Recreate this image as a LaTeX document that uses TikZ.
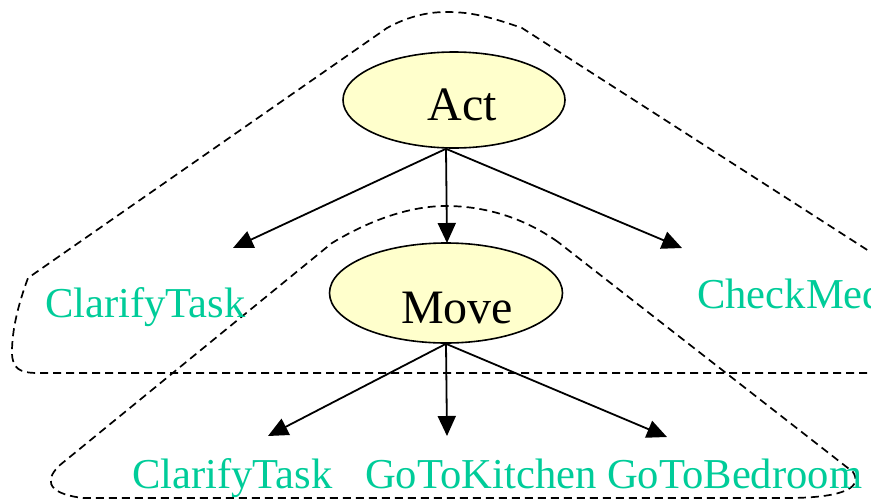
\documentclass[tikz,border=0pt]{standalone}
\usepackage{fontspec}
\setmainfont{Liberation Serif}
\usepackage{xcolor}
\usetikzlibrary{shapes.geometric,arrows.meta}
\definecolor{leafgreen}{RGB}{0,204,153}
\definecolor{goalfill}{RGB}{255,255,204}

\begin{document}
\begin{tikzpicture}[x=1pt,y=-1pt,
  goal/.style={ellipse, draw, line width=1.6pt, fill=goalfill, inner sep=0pt},
  goaltext/.style={inner sep=0pt, font=\fontsize{48}{48}\selectfont},
  leaf/.style={anchor=base west, inner sep=0pt, text=leafgreen, font=\fontsize{42.6}{43}\selectfont},
  link/.style={line width=1.8pt, -{Triangle[length=20pt,width=18pt]}},
  group/.style={dash pattern=on 8pt off 5pt, line width=1.7pt}]
  \useasboundingbox (0,0) rectangle (878,501);
  % the page is cut off on the right
  \clip (0,0) rectangle (870,501);

  % Dashed group round Act and its children
  \draw[group] (900,271) -- (522,28)
    .. controls (485,15) and (468,12) .. (446,12)
    .. controls (425,12) and (405,18) .. (387,28) -- (28,278)
    .. controls (18,305) and (12,330) .. (12,352)
    .. controls (12,369) and (20,373) .. (38,373) -- (900,373);
  % Dashed group round Move and its children
  \draw[group] (558,242)
    .. controls (520,215) and (480,206) .. (446,206)
    .. controls (410,206) and (370,220) .. (332,243) -- (60,465)
    .. controls (47,477) and (42,493) .. (83,498) -- (793,498)
    .. controls (848,497) and (862,486) .. (853,472) -- cycle;

  % Goal nodes
  \node[goal, minimum width=222pt, minimum height=96pt] (act) at (454,100) {};
  \node[goal, minimum width=233pt, minimum height=100pt] (move) at (446,293) {};
  \node[goaltext] (acttext) at (462,105) {Act};
  \node[goaltext] (movetext) at (457,308) {Move};

  % Leaf labels
  \node[leaf] (clarifyA) at (45,317) {ClarifyTask};
  \node[leaf] (checkmed) at (697,308) {CheckMedicine};
  \node[leaf] (clarifyB) at (132,488) {ClarifyTask};
  \node[leaf] (kitchen) at (365,488) {GoToKitchen};
  \node[leaf] (bedroom) at (607,488) {GoToBedroom};

  % Arrow tips
  \coordinate (actL) at (233,248);
  \coordinate (actM) at (447,243);
  \coordinate (actR) at (682,248);
  \coordinate (moveL) at (268,436);
  \coordinate (moveM) at (447,436);
  \coordinate (moveR) at (667,437);

  % Links
  \foreach \t in {actL,actM,actR}{
    \draw[link] ([xshift=-8pt]act.south) -- (\t);
  }
  \foreach \t in {moveL,moveM,moveR}{
    \draw[link] (move.south) -- (\t);
  }
\end{tikzpicture}
\end{document}
